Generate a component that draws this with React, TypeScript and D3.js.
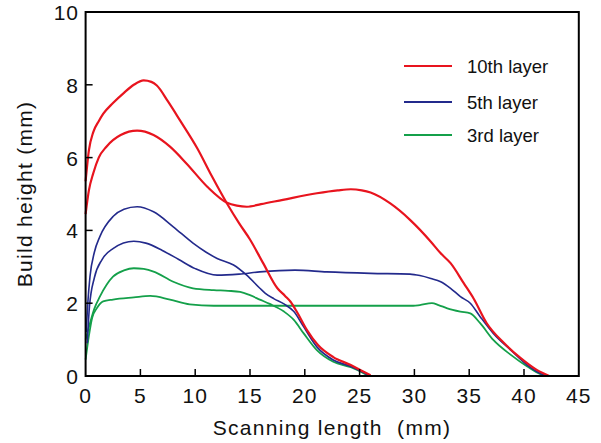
import React from "react";
import * as d3 from "d3";

type P = [number, number];

const xTicks = [0, 5, 10, 15, 20, 25, 30, 35, 40, 45];
const yTicks = [0, 2, 4, 6, 8, 10];
const legendLabels = ["10th layer", "5th layer", "3rd layer"];
const colors = ["#e8141e", "#232a8c", "#14a04a"];

const red10A: P[] = [[0,5.35],[0.3,6.2],[0.7,6.7],[1.2,7.0],[1.6,7.2],[2.5,7.5],[3.5,7.78],[4.4,8.0],[5.3,8.12],[6.0,8.08],[6.5,7.98],[7.5,7.55],[8.6,7.03],[10.2,6.25],[11.5,5.5],[12.9,4.74],[14.0,4.2],[15.0,3.75],[16.2,3.1],[17.5,2.41],[18.2,2.2],[18.7,2.04],[19.3,1.75],[20.2,1.26],[21.2,0.85],[22.6,0.52],[24.2,0.3],[25.1,0.16],[26.0,0.02]];
const red10B: P[] = [[0,4.45],[0.3,5.1],[0.7,5.57],[1.2,6.0],[1.9,6.3],[3.2,6.62],[4.7,6.74],[6.2,6.62],[7.7,6.3],[9.2,5.84],[11.1,5.2],[12.9,4.76],[13.8,4.68],[14.7,4.65],[16.0,4.72],[18.0,4.84],[21.1,5.02],[23.0,5.1],[24.2,5.13],[25.2,5.1],[26.0,5.04],[27.8,4.74],[29.6,4.29],[31.5,3.69],[32.4,3.37],[33.3,3.1],[34.5,2.55],[35.4,2.13],[36.6,1.45],[38.2,0.9],[39.7,0.49],[41.2,0.16],[42.3,0.0]];
const blue5A: P[] = [[0.05,1.2],[0.2,2.0],[0.4,2.73],[0.8,3.4],[1.3,3.83],[2.5,4.38],[3.5,4.58],[4.7,4.65],[6.2,4.51],[8.0,4.1],[9.8,3.65],[11.0,3.4],[12.0,3.23],[13.5,3.05],[14.7,2.77],[15.9,2.41],[16.4,2.27],[17.2,2.12],[18.1,1.98],[19.0,1.77],[19.9,1.35],[21.1,0.8],[22.6,0.44],[24.2,0.26],[25.4,0.09],[26.0,0.0],[28.5,0.0]];
const blue5B: P[] = [[0.15,0.9],[0.35,1.9],[0.8,2.7],[1.5,3.2],[2.5,3.5],[4.4,3.7],[5.5,3.65],[7.0,3.45],[8.5,3.2],[10.0,2.95],[12.0,2.77],[14.0,2.8],[15.9,2.86],[19.1,2.91],[22.0,2.86],[26.0,2.82],[29.6,2.8],[30.5,2.76],[31.5,2.68],[32.4,2.59],[33.3,2.41],[34.2,2.18],[35.1,2.0],[36.0,1.63],[37.2,1.17],[38.8,0.71],[40.3,0.3],[41.5,0.07],[42.1,0.0]];
const green3A: P[] = [[0,1.0],[0.4,1.45],[0.8,1.85],[1.3,2.18],[2.5,2.73],[3.5,2.9],[4.4,2.96],[5.3,2.94],[6.2,2.87],[8.0,2.59],[9.8,2.41],[11.7,2.36],[13.0,2.34],[14.1,2.31],[15.0,2.22],[15.9,2.1],[16.8,1.98],[18.1,1.77],[19.0,1.54],[19.9,1.17],[21.1,0.71],[22.6,0.39],[24.2,0.24],[25.4,0.07],[25.8,0.0]];
const green3B: P[] = [[0,0.45],[0.3,1.1],[0.6,1.6],[1.0,1.85],[1.6,2.05],[2.5,2.1],[4.4,2.16],[5.9,2.2],[7.7,2.1],[9.5,1.97],[11.7,1.93],[15.9,1.93],[20,1.93],[25,1.93],[29.9,1.93],[30.5,1.95],[31.6,2.0],[32.2,1.95],[33.0,1.86],[34.2,1.77],[35.1,1.72],[36.0,1.45],[37.2,0.99],[38.8,0.58],[40.3,0.26],[41.5,0.05],[42.0,0.0]];

const W = 601, H = 443;
const L = 85.6, R = 578.8, T = 12, B = 376;

export default function App() {
  const x = d3.scaleLinear().domain([0, 45]).range([L, R]);
  const y = d3.scaleLinear().domain([0, 10]).range([B, T]);
  const line = d3.line<P>().x(d => x(d[0])).y(d => y(d[1])).curve(d3.curveMonotoneX);
  const series: { data: P[]; color: string; w: number }[] = [
    { data: green3A, color: colors[2], w: 1.8 },
    { data: green3B, color: colors[2], w: 1.8 },
    { data: blue5A, color: colors[1], w: 1.6 },
    { data: blue5B, color: colors[1], w: 1.6 },
    { data: red10A, color: colors[0], w: 2.2 },
    { data: red10B, color: colors[0], w: 2.2 },
  ];
  const font = "Liberation Sans, Arial, sans-serif";
  const legY = [66, 102, 135];
  return (
    <svg width={W} height={H} style={{ position: "absolute", left: 0, top: 0, background: "#fff" }}>
      <rect x={0} y={0} width={W} height={H} fill="#fff" />
      {series.map((s, i) => (
        <path key={i} d={line(s.data) || ""} fill="none" stroke={s.color} strokeWidth={s.w} strokeLinejoin="round" />
      ))}
      <rect x={L} y={T} width={R - L} height={B - T} fill="none" stroke="#000" strokeWidth={2} />
      {xTicks.slice(1, -1).map(t => (
        <line key={"xt" + t} x1={x(t)} x2={x(t)} y1={B} y2={B - 7} stroke="#000" strokeWidth={1.5} />
      ))}
      {yTicks.slice(1, -1).map(t => (
        <line key={"yt" + t} x1={L} x2={L + 7} y1={y(t)} y2={y(t)} stroke="#000" strokeWidth={1.5} />
      ))}
      {xTicks.map(t => (
        <text key={"xl" + t} x={x(t)} y={403} textAnchor="middle" fontFamily={font} fontSize={21} letterSpacing={1} fill="#111">{t}</text>
      ))}
      {yTicks.map(t => (
        <text key={"yl" + t} x={79} y={y(t) + 8} textAnchor="end" fontFamily={font} fontSize={21} letterSpacing={1} fill="#111">{t}</text>
      ))}
      <text x={332} y={435} textAnchor="middle" fontFamily={font} fontSize={21} letterSpacing={1.3} fill="#111" style={{ whiteSpace: "pre" }}>{"Scanning length  (mm)"}</text>
      <text transform={`translate(32,194) rotate(-90)`} textAnchor="middle" fontFamily={font} fontSize={21} letterSpacing={1.3} fill="#111">Build height (mm)</text>
      {legendLabels.map((lab, i) => (
        <g key={lab}>
          <line x1={404} x2={452} y1={legY[i]} y2={legY[i]} stroke={colors[i]} strokeWidth={2} />
          <text x={467} y={legY[i] + 7} fontFamily={font} fontSize={18.5} fill="#111">{lab}</text>
        </g>
      ))}
    </svg>
  );
}
